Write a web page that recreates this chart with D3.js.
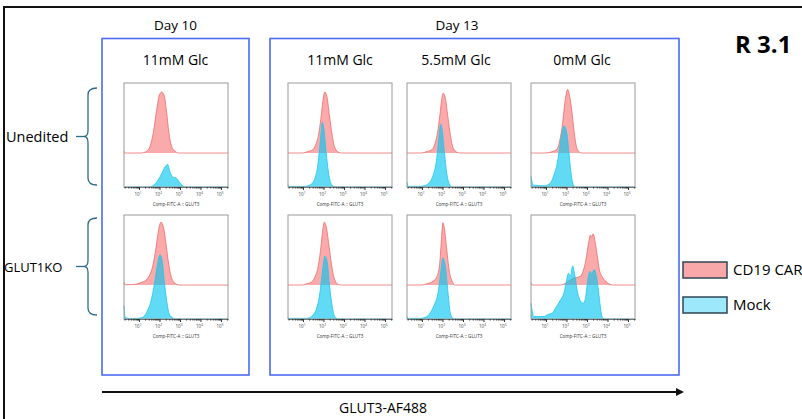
<!DOCTYPE html>
<html>
<head>
<meta charset="utf-8">
<script src="https://cdnjs.cloudflare.com/ajax/libs/d3/7.8.5/d3.min.js"></script>
<style>
  body { margin: 0; background: #fff; overflow: hidden; }
  text { font-family: "Open Sans", sans-serif; fill: #000; }
</style>
</head>
<body>
<div id="chart"></div>
<script>
// Labels
var days = ["Day 10", "Day 13"];
var columns = ["11mM Glc", "11mM Glc", "5.5mM Glc", "0mM Glc"];
var rows = ["Unedited", "GLUT1KO"];
var series = ["CD19 CAR", "Mock"];
var decades = [1, 2, 3, 4, 5];
var axisTitle = "Comp-FITC-A :: GLUT3";

// Histograms: [log10 GLUT3 intensity, % of mode]
var carD10Un = [[0.27,3],[0.33,0],[1.1,0],[1.375,3],[1.54,11],[1.70,33],[1.86,70],[1.99,95],[2.11,100],[2.22,95],[2.35,66],[2.46,33],[2.59,11],[2.76,3],[2.92,0],[5.34,0]];
var mockD10Un = [[0.27,0],[1.5,0],[1.67,2],[1.86,8],[2.11,22],[2.27,33],[2.40,37],[2.51,25],[2.67,16],[2.80,15],[2.97,8],[3.13,2],[3.3,0],[5.34,0]];
var carD10KO = [[0.27,5],[0.33,0.5],[0.8,1],[1.10,4],[1.34,8],[1.50,15],[1.67,31],[1.83,61],[1.96,91],[2.07,103],[2.20,94],[2.32,67],[2.45,34],[2.56,15],[2.72,4],[2.97,0],[5.34,0]];
var mockD10KO = [[0.27,22],[0.32,3],[0.5,1],[0.9,1],[1.10,2],[1.26,5],[1.42,14],[1.59,30],[1.75,57],[1.88,85],[2.02,105],[2.12,98],[2.23,63],[2.35,30],[2.48,8],[2.64,2],[2.8,0],[5.34,0]];

var carD13Un11 = [[0.27,0],[1.0,0],[1.2,2],[1.45,5],[1.6,12],[1.77,32],[1.9,64],[1.99,90],[2.07,100],[2.17,92],[2.29,62],[2.42,30],[2.55,9],[2.75,1],[2.9,0],[5.34,0]];
var mockD13Un11 = [[0.27,4],[0.33,1],[1.0,1],[1.25,2],[1.45,6],[1.6,16],[1.72,35],[1.82,66],[1.89,92],[1.94,106],[2.02,95],[2.12,60],[2.24,25],[2.36,6],[2.5,1],[2.65,0],[5.34,0]];
var carD13Un55 = [[0.27,0],[1.0,0],[1.2,2],[1.45,5],[1.6,12],[1.75,32],[1.88,64],[1.97,90],[2.04,98],[2.14,90],[2.26,60],[2.39,28],[2.52,8],[2.72,1],[2.9,0],[5.34,0]];
var mockD13Un55 = [[0.27,8],[0.33,1],[0.8,1],[1.1,2],[1.35,7],[1.55,20],[1.7,42],[1.8,72],[1.87,96],[1.91,103],[1.99,92],[2.09,58],[2.21,22],[2.33,5],[2.47,0],[5.34,0]];
var carD13Un0 = [[0.27,0],[1.0,0],[1.28,2],[1.44,4],[1.57,8],[1.68,22],[1.80,46],[1.93,85],[2.06,104],[2.17,90],[2.28,63],[2.41,25],[2.54,5],[2.74,0],[5.34,0]];
var mockD13Un0 = [[0.27,18],[0.38,3],[0.95,2],[1.11,4],[1.28,10],[1.40,21],[1.52,34],[1.63,56],[1.77,86],[1.89,100],[2.01,89],[2.12,56],[2.22,23],[2.33,4],[2.45,0],[5.34,0]];

var carD13KO11 = [[0.27,0],[1.0,0],[1.18,2],[1.42,5],[1.58,13],[1.75,32],[1.88,64],[1.96,89],[2.04,103],[2.15,93],[2.27,64],[2.40,32],[2.53,10],[2.72,1],[2.9,0],[5.34,0]];
var mockD13KO11 = [[0.27,3],[0.33,1],[1.1,1],[1.31,2],[1.50,7],[1.67,18],[1.80,37],[1.91,67],[1.99,89],[2.07,103],[2.19,92],[2.28,59],[2.40,26],[2.51,7],[2.64,1],[2.8,0],[5.34,0]];
var carD13KO55 = [[0.27,0],[1.0,0],[1.24,2],[1.57,7],[1.73,14],[1.86,34],[1.94,70],[2.02,102],[2.10,92],[2.22,54],[2.33,23],[2.46,7],[2.62,0],[5.34,0]];
var mockD13KO55 = [[0.27,4],[0.33,1],[0.9,1],[1.24,4],[1.4,10],[1.57,21],[1.81,48],[1.93,81],[2.02,100],[2.14,86],[2.27,43],[2.38,10],[2.51,1],[2.65,0],[5.34,0]];
var carD13KO0 = [[0.27,4],[0.33,0],[1.72,0],[1.96,3],[2.28,10],[2.69,15],[2.94,40],[3.10,73],[3.17,82],[3.23,78],[3.30,84],[3.40,70],[3.50,48],[3.60,26],[3.75,13],[3.99,4],[4.23,0],[5.34,0]];
var mockD13KO0 = [[0.27,26],[0.41,4],[0.90,4],[1.06,7],[1.31,10],[1.47,18],[1.72,32],[1.88,43],[2.01,64],[2.09,75],[2.20,71],[2.30,87],[2.40,73],[2.53,45],[2.69,29],[2.82,26],[2.94,37],[3.05,67],[3.15,78],[3.24,73],[3.34,81],[3.44,73],[3.54,52],[3.63,26],[3.73,4],[3.83,0],[5.34,0]];

var panels = [
  { col: 0, row: 0, car: carD10Un, mock: mockD10Un },
  { col: 0, row: 1, car: carD10KO, mock: mockD10KO },
  { col: 1, row: 0, car: carD13Un11, mock: mockD13Un11 },
  { col: 2, row: 0, car: carD13Un55, mock: mockD13Un55 },
  { col: 3, row: 0, car: carD13Un0, mock: mockD13Un0 },
  { col: 1, row: 1, car: carD13KO11, mock: mockD13KO11 },
  { col: 2, row: 1, car: carD13KO55, mock: mockD13KO55 },
  { col: 3, row: 1, car: carD13KO0, mock: mockD13KO0 }
];

// Boilerplate:
var W = 802, H = 419;
var svg = d3.select("#chart").append("svg")
  .attr("width", W).attr("height", H);

var colX = [124, 288, 407, 531], rowY = [83, 215];
var pw = 104, ph = 104, redBase = 70;

var carFill = "rgba(245,85,85,0.5)", carLine = "rgba(240,95,95,0.9)";
var mockFill = "rgba(0,195,240,0.62)", mockLine = "rgb(25,200,240)";

var x = d3.scaleLog().domain([Math.pow(10, 0.27), Math.pow(10, 5.34)]).range([0, pw]);
var h = d3.scaleLinear().domain([0, 100]).range([0, 61]);

// outer frame (runs off the right / bottom)
svg.append("rect").attr("x", 4).attr("y", 7).attr("width", 840).attr("height", 440)
  .attr("fill", "none").attr("stroke", "#111").attr("stroke-width", 2);

// blue group boxes
svg.append("rect").attr("x", 102).attr("y", 38.5).attr("width", 147).attr("height", 336.5)
  .attr("fill", "none").attr("stroke", "#4a6bf2").attr("stroke-width", 1.6);
svg.append("rect").attr("x", 270).attr("y", 38.5).attr("width", 409).attr("height", 336.5)
  .attr("fill", "none").attr("stroke", "#4a6bf2").attr("stroke-width", 1.6);

svg.append("text").attr("x", 175.5).attr("y", 30).attr("text-anchor", "middle")
  .style("font-size", "13.5px").text(days[0]);
svg.append("text").attr("x", 457).attr("y", 30).attr("text-anchor", "middle")
  .style("font-size", "13.5px").text(days[1]);

var colCenter = [175.5, 340, 456, 582];
columns.forEach(function(c, i) {
  svg.append("text").attr("x", colCenter[i]).attr("y", 65).attr("text-anchor", "middle")
    .style("font-size", "14px").text(c);
});

svg.append("text").attr("x", 735).attr("y", 53).style("font-size", "24px")
  .style("font-weight", 700).text("R 3.1");

// row labels + braces
var braceTop = [88, 218], braceBot = [185, 315];
var labelSize = ["14.5px", "13px"];
rows.forEach(function(r, i) {
  var mid = (braceTop[i] + braceBot[i]) / 2;
  svg.append("text").attr("x", i == 0 ? 6 : 4).attr("y", mid + 5).style("font-size", labelSize[i]).text(r);
  var p = d3.path();
  p.moveTo(97, braceTop[i]);
  p.quadraticCurveTo(88, braceTop[i], 88, braceTop[i] + 7);
  p.lineTo(88, mid - 6);
  p.quadraticCurveTo(88, mid, 84, mid);
  p.quadraticCurveTo(88, mid, 88, mid + 6);
  p.lineTo(88, braceBot[i] - 7);
  p.quadraticCurveTo(88, braceBot[i], 97, braceBot[i]);
  svg.append("path").attr("d", p.toString()).attr("fill", "none")
    .attr("stroke", "#2f6a88").attr("stroke-width", 1.3);
  svg.append("line").attr("x1", 76).attr("x2", 84).attr("y1", mid).attr("y2", mid)
    .attr("stroke", "#2f6a88").attr("stroke-width", 1.3);
});

// tick positions 1..9 per decade
var minorTicks = [];
for (var e = 0; e < 6; e++) for (var m = 1; m < 10; m++) {
  var v = m * Math.pow(10, e);
  if (v >= x.domain()[0] && v <= x.domain()[1]) minorTicks.push(v);
}

panels.forEach(function(p) {
  var g = svg.append("g")
    .attr("transform", "translate(" + colX[p.col] + "," + rowY[p.row] + ")");

  var area = function(base) {
    return d3.area().curve(d3.curveMonotoneX)
      .x(d => x(Math.pow(10, d[0])))
      .y0(base).y1(d => base - h(d[1]));
  };
  var line = function(base) {
    return d3.line().curve(d3.curveMonotoneX)
      .x(d => x(Math.pow(10, d[0])))
      .y(d => base - h(d[1]));
  };

  g.append("path").attr("d", area(redBase)(p.car)).attr("fill", carFill);
  g.append("path").attr("d", line(redBase)(p.car)).attr("fill", "none")
    .attr("stroke", carLine).attr("stroke-width", 0.8);
  g.append("path").attr("d", area(ph)(p.mock)).attr("fill", mockFill);
  g.append("path").attr("d", line(ph)(p.mock)).attr("fill", "none")
    .attr("stroke", mockLine).attr("stroke-width", 0.8);

  g.append("rect").attr("width", pw).attr("height", ph)
    .attr("fill", "none").attr("stroke", "#9a9a9a").attr("stroke-width", 1);

  var ax = g.append("g").attr("transform", "translate(0," + ph + ")")
    .call(d3.axisBottom(x).tickValues(minorTicks).tickSize(1.5).tickSizeOuter(0).tickFormat(""));
  ax.select(".domain").attr("stroke", "#777");
  ax.selectAll(".tick line").attr("stroke", "#333")
    .attr("y2", d => Math.abs(Math.log10(d) % 1) < 1e-6 ? 3 : 1.5);

  decades.forEach(function(dc) {
    var t = g.append("text").attr("x", x(Math.pow(10, dc)) - 1).attr("y", ph + 8.5)
      .attr("text-anchor", "middle").style("font-size", "4.5px").style("fill", "#444").text("10");
    t.append("tspan").attr("dy", -2).style("font-size", "3.2px").text(dc);
  });
  g.append("text").attr("x", pw / 2).attr("y", ph + 19).attr("text-anchor", "middle")
    .style("font-size", "4.6px").style("fill", "#333").text(axisTitle);
});

// legend
var legFill = ["#f8a8a8", "#9de8fb"], legY = [262, 297];
series.forEach(function(s, i) {
  svg.append("rect").attr("x", 683).attr("y", legY[i]).attr("width", 44).attr("height", 16)
    .attr("fill", legFill[i]).attr("stroke", "#2c4654").attr("stroke-width", 1.5);
  svg.append("text").attr("x", 733).attr("y", legY[i] + 13).style("font-size", "15px").text(s);
});

// x-axis arrow
svg.append("line").attr("x1", 102).attr("x2", 677).attr("y1", 392).attr("y2", 392)
  .attr("stroke", "#111").attr("stroke-width", 2.2);
svg.append("path").attr("d", "M676,388 L684,392 L676,396 Z").attr("fill", "#111");
svg.append("text").attr("x", 383).attr("y", 413).attr("text-anchor", "middle")
  .style("font-size", "14px").text("GLUT3-AF488");
</script>
</body>
</html>
